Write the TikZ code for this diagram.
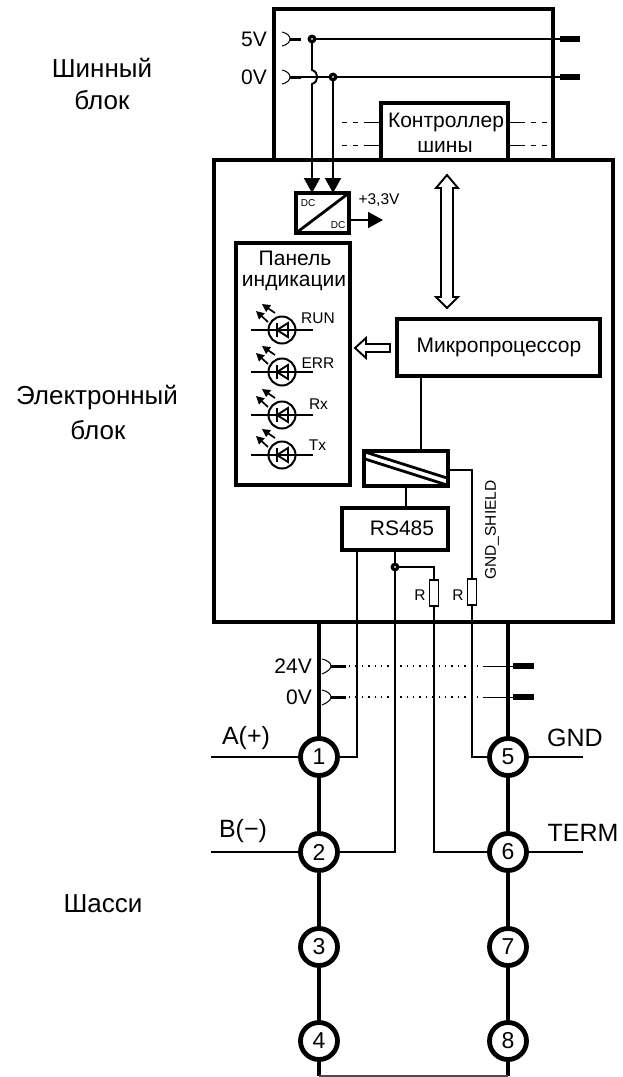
\documentclass[tikz,border=0pt]{standalone}
\usepackage{fontspec}
\setmainfont{Liberation Sans}
\usetikzlibrary{arrows.meta,calc}
\newcommand{\fsz}[1]{\fontsize{#1}{#1}\selectfont}
\tikzset{
 x=1pt,y=-1pt,
 heavy/.style={line width=4pt},
 thin wire/.style={line width=1.9pt},
 hair/.style={line width=1pt},
 box/.style={draw,line width=3.2pt,fill=white,inner sep=0pt,outer sep=0pt,anchor=north west},
 term/.style={circle,draw,line width=4.8pt,fill=white,minimum size=37pt,inner sep=0pt,outer sep=0pt,font=\fsz{23}},
 junction/.style={circle,draw,line width=3.2pt,fill=white,minimum size=5.5pt,inner sep=0pt,outer sep=0pt},
 pin/.style={line width=6.5pt},
 stub/.style={line width=3pt},
 txt/.style={inner sep=0pt,font=\fsz{21}},
 big/.style={inner sep=0pt,font=\fsz{26}},
 mid/.style={inner sep=0pt,font=\fsz{25}},
 small/.style={inner sep=0pt,font=\fsz{15.5}},
 bigarrow/.style={-{Triangle[length=15pt,width=16pt]},thin wire},
 hollow/.style={draw,line width=1.9pt,fill=white,line join=miter},
 resistor/.style={draw,line width=1.8pt,fill=white,minimum width=9pt,minimum height=26pt,inner sep=0pt,outer sep=0pt},
 ledray/.style={-{Triangle[length=8pt,width=8pt]},line width=1.7pt},
}
\newcommand{\ledsym}[2]{%
 \node[circle,draw,line width=2pt,minimum size=27pt,inner sep=0pt,outer sep=0pt] (led#1) at (282,#2) {};
 \coordinate (led#1L) at (251,#2); \coordinate (led#1R) at (313,#2);
 \draw[line width=1.5pt] (led#1L) -- (led#1R);
 \draw[line width=1.9pt] (277,#2-7) -- (277,#2+7);
 \draw[line width=1.9pt,line join=miter] (288,#2-7) -- (288,#2+7) -- (277,#2) -- cycle;
 \draw[ledray] (268,#2-8) -- (256,#2-19);
 \draw[ledray] (275,#2-17) -- (262,#2-26);
}
\begin{document}
\begin{tikzpicture}
\useasboundingbox (0,0) rectangle (622,1077);
% top block
\coordinate (tl) at (274,160); \coordinate (tr) at (553,160);
\draw[line width=3.6pt,line join=miter] (tl) -- (274,9) -- (553,9) -- (tr);
% bus
\coordinate (s5) at (290,39); \coordinate (s0) at (290,77);
\node[junction] (j5) at (312,39) {};
\node[junction] (j0) at (333,77) {};
\coordinate (p5a) at (560,39); \coordinate (p5b) at (580,39);
\coordinate (p0a) at (560,77); \coordinate (p0b) at (580,77);
\draw[thin wire] (j5) -- (p5a);
\draw[thin wire] (j0) -- (p0a);
\draw[thin wire] (s0) -- (j0);
\draw[pin] (p5a) -- (p5b);
\draw[pin] (p0a) -- (p0b);
\draw[stub] (s5) -- (301,39);
\draw[stub] (s0) -- (301,77);
\draw[hair] (282,32) .. controls (287,33) and (290,36) .. (s5) .. controls (290,42) and (287,45) .. (282,46);
\draw[hair] (282,70) .. controls (287,71) and (290,74) .. (s0) .. controls (290,80) and (287,83) .. (282,84);
\node[txt,anchor=east] (l5v) at (267,39) {5V};
\node[txt,anchor=east] (l0v) at (267,77) {0V};
% main box
\node[draw,line width=3.6pt,minimum width=399pt,minimum height=462pt,inner sep=0pt,outer sep=0pt,anchor=north west] (main) at (214,160) {};
% controller
\node[box,minimum width=127pt,minimum height=57pt] (ctl) at (381,103) {};
\node[txt] (ctl1) at (446,122) {Контроллер};
\node[txt] (ctl2) at (445,147) {шины};
\foreach \y/\n in {122/a,145/b}{
 \coordinate (dl\n) at (342,\y); \coordinate (dr\n) at (547,\y);
 \draw[hair,dash pattern=on 5pt off 6pt] (dl\n) -- (365,\y);
 \draw[hair] (365,\y) -- (381,\y);
 \draw[hair,dash pattern=on 5pt off 6pt] (dr\n) -- (520,\y);
 \draw[hair] (508,\y) -- (520,\y);
}
% dc-dc
\node[box,minimum width=53pt,minimum height=40pt] (dc) at (296,193) {};
\draw[line width=2.8pt] (dc.south west) -- (dc.north east);
\node[inner sep=0pt,font=\fsz{10}] (dc1) at (308,203) {DC};
\node[inner sep=0pt,font=\fsz{10}] (dc2) at (338,225) {DC};
\draw[bigarrow] (j5) -- (312,70) .. controls (319,72) and (319,82) .. (312,84) -- (312,193);
\draw[bigarrow] (j0) -- (333,193);
\coordinate (vout) at (383,220);
\draw[bigarrow] (349,220) -- (vout);
\node[small] (v33) at (379,200) {+3,3V};
% hollow double arrow
\draw[hollow] (447,175) -- (458,188) -- (453,188) -- (453,297) -- (458,297) -- (447,308) -- (436,297) -- (441,297) -- (441,188) -- (436,188) -- cycle;
% panel
\node[box,minimum width=114pt,minimum height=242pt] (panel) at (236,243) {};
\node[txt] (pn1) at (295,258) {Панель};
\node[txt] (pn2) at (294,283) {индикации};
\ledsym{a}{330}
\ledsym{b}{372}
\ledsym{c}{415}
\ledsym{d}{455}
\node[small] (rrun) at (318,318) {RUN};
\node[small] (rerr) at (318,363) {ERR};
\node[small] (rrx) at (318.5,404) {Rx};
\node[small] (rtx) at (317.5,445) {Tx};
% micro
\node[box,minimum width=203pt,minimum height=57pt] (mcu) at (397,319) {};
\node[txt] (mcut) at (499,347) {Микропроцессор};
\draw[hollow] (355,348) -- (366,338) -- (366,344) -- (390,344) -- (390,352) -- (366,352) -- (366,358) -- cycle;
% isolator
\node[box,minimum width=84pt,minimum height=35pt] (iso) at (364,451) {};
\draw[line width=2.8pt] (365,452) -- (447,478);
\draw[line width=2.8pt] (365,459) -- (447,485);
\coordinate (misob) at (421,376);
\coordinate (isot) at (421,451);
\draw[thin wire] (misob) -- (isot);
% rs485
\node[box,minimum width=106pt,minimum height=42pt] (rs) at (342,508) {};
\node[txt] (rst) at (402,528) {RS485};
\coordinate (isob) at (406,486);
\coordinate (rstop) at (406,508);
\draw[thin wire] (isob) -- (rstop);
% terminals
\coordinate (lt) at (319,622); \coordinate (rt) at (508,622);
\coordinate (lb) at (319,1076); \coordinate (rb) at (508,1076);
\draw[heavy] (lt) -- (lb);
\draw[heavy] (rt) -- (rb);
\draw[line width=1.2pt,black!70] (lb) -- (rb);
\foreach \n/\x/\y in {1/319/757,2/319/852,3/319/947,4/319/1041,5/508/757,6/508/852,7/508/947,8/508/1041}
 \node[term] (t\n) at (\x,\y) {\n};
% resistors
\node[resistor] (r1) at (434,593) {};
\node[resistor] (r2) at (472,592) {};
\node[small] (r1l) at (420,595) {R};
\node[small] (r2l) at (458,595) {R};
\node[small,rotate=90] (gs) at (492,530) {GND\_SHIELD};
\node[junction] (jb) at (395,567) {};
% wires
\draw[thin wire] (357,550) -- (357,757) -- (t1);
\draw[thin wire] (395,550) -- (jb);
\draw[thin wire] (jb) -- (395,852) -- (t2);
\draw[thin wire] (jb) -- (434,567) -- (r1);
\draw[thin wire] (r1) -- (434,852) -- (t6);
\draw[thin wire] (448,470) -- (472,470) -- (r2);
\draw[thin wire] (r2) -- (472,757) -- (t5);
% side lines
\coordinate (la) at (211,757); \coordinate (lbb) at (211,852);
\coordinate (rg) at (583,757); \coordinate (rtm) at (583,852);
\draw[thin wire] (la) -- (t1);
\draw[thin wire] (lbb) -- (t2);
\draw[thin wire] (rg) -- (t5);
\draw[thin wire] (rtm) -- (t6);
\node[mid] (aa) at (246,738) {A(+)};
\node[mid] (bb) at (243,831) {B(−)};
\node[mid] (gnd) at (575,738) {GND};
\node[mid] (trm) at (583,833) {TERM};
% power row
\foreach \y/\t/\n in {666/24V/a,697/0V/b}{
 \coordinate (ps\n) at (331,\y);
 \coordinate (pd\n) at (483,\y);
 \coordinate (pt\n) at (513,\y);
 \draw[hair] (322,\y-7) .. controls (327,\y-6) and (331,\y-3) .. (ps\n) .. controls (331,\y+3) and (327,\y+6) .. (322,\y+8);
 \draw[stub] (ps\n) -- (346,\y);
 \draw[line width=1.4pt,dash pattern=on 1.4pt off 5pt] (349,\y) -- (pd\n);
 \draw[hair] (pd\n) -- (pt\n);
 \draw[pin] (pt\n) -- (534,\y);
 \node[txt,anchor=east] at (312,\y) {\t};
}
% side labels
\node[big] (s1) at (102,68) {Шинный};
\node[big] (s2) at (102,100) {блок};
\node[big] (s3) at (97,398) {Электронный};
\node[big] (s4) at (98,430) {блок};
\node[big] (s5t) at (103,904) {Шасси};
\end{tikzpicture}
\end{document}
